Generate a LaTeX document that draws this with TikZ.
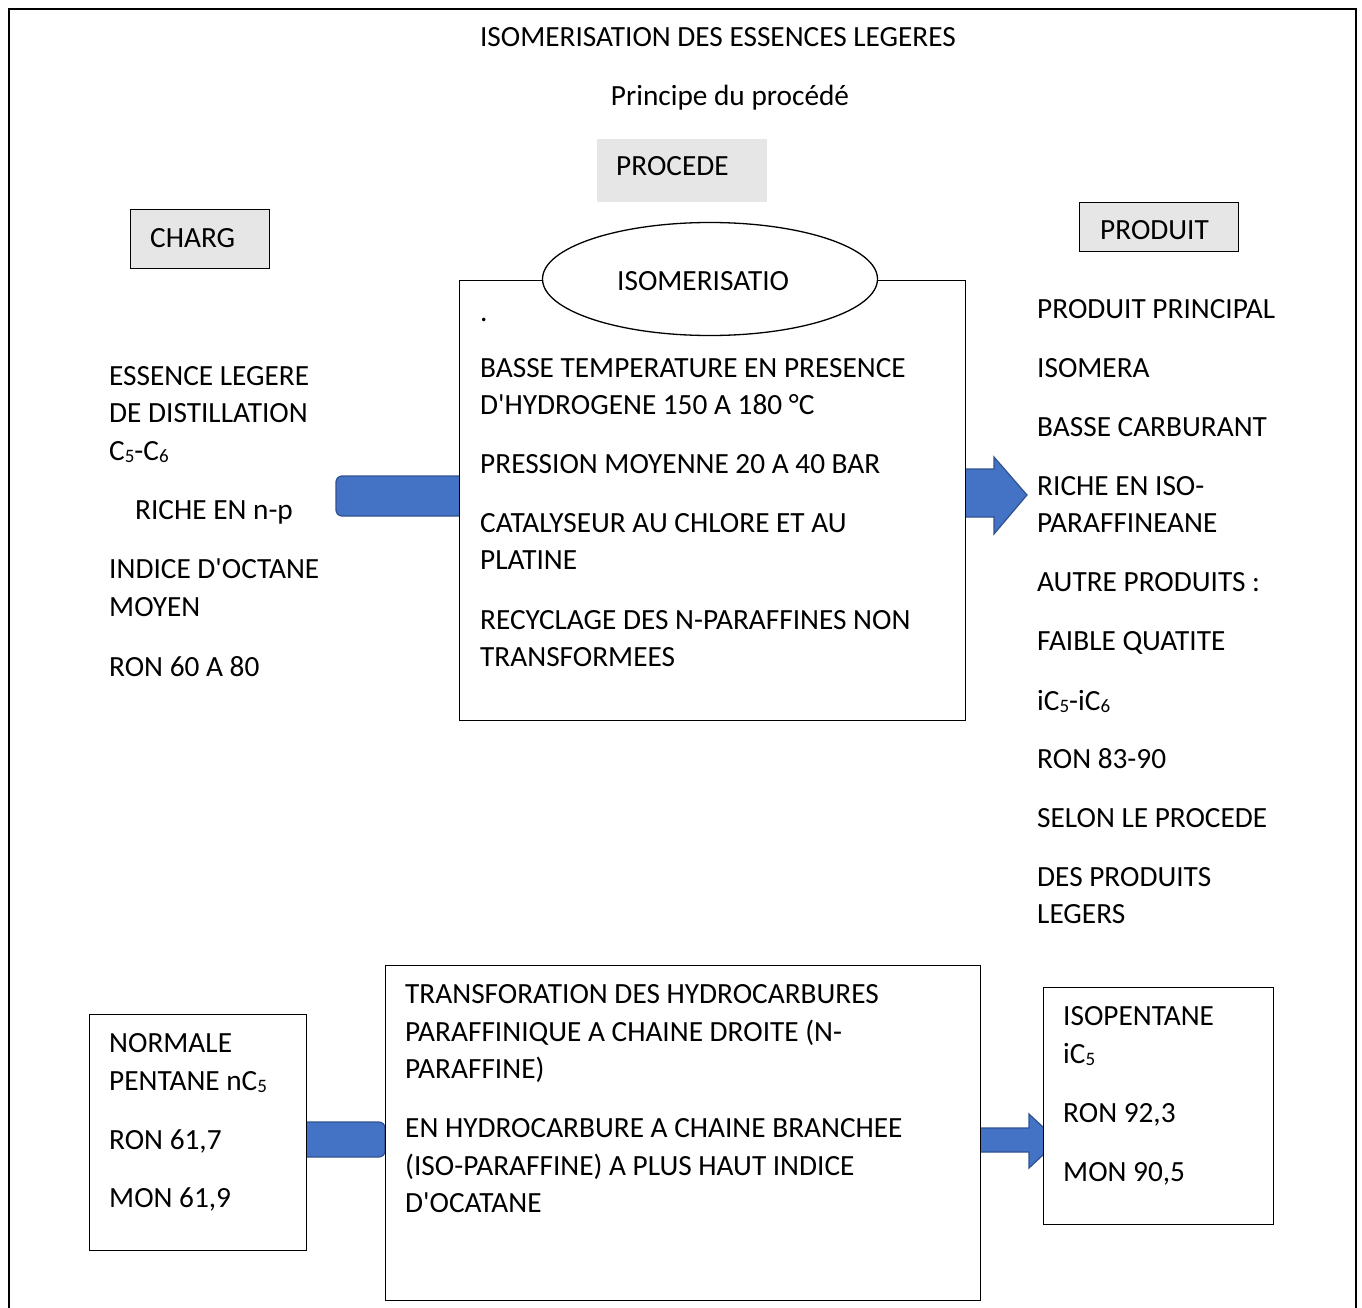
\documentclass[tikz,border=0pt]{standalone}
\usepackage{fontspec}
\setmainfont{Carlito}[Ligatures=TeXOff]
\usetikzlibrary{shapes.geometric}
\definecolor{ablue}{HTML}{4472C4}
\definecolor{ablueline}{HTML}{2F528F}
\definecolor{agray}{HTML}{E7E6E6}
\newcommand{\sbs}[1]{\raisebox{-0.08em}{\fontsize{19}{19}\selectfont #1}}
\begin{document}
\begin{tikzpicture}[x=1pt,y=-1pt,
  every node/.style={font=\fontsize{29.3}{38.6}\selectfont, inner sep=0pt},
  txt/.style={anchor=base west},
  box/.style={draw, line width=1.3pt, fill=white, anchor=north west},
  graybox/.style={fill=agray, anchor=north west},
  blockarrow/.style={draw=ablueline, fill=ablue, line width=1.2pt}]
\useasboundingbox (0,0) rectangle (1362,1308);
% outer frame
\draw[line width=2pt] (9,1310) -- (9,9) -- (1356,9) -- (1356,1310);

% titles
\node (title) [anchor=base] at (718,47) {ISOMERISATION DES ESSENCES LEGERES};
\node (subtitle) [anchor=base] at (730,106) {Principe du procédé};

% header boxes
\node (procbox) [graybox, minimum width=170pt, minimum height=63pt] at (597,139) {};
\node (proctxt) [txt] at (616,176) {PROCEDE};
\node (chargbox) [graybox, draw, line width=1.3pt, minimum width=139pt, minimum height=59pt] at (130,209) {};
\node (chargtxt) [txt] at (150,247) {CHARG};
\node (prodbox) [graybox, draw, line width=1.3pt, minimum width=159pt, minimum height=49pt] at (1079,202) {};
\node (prodtxt) [txt] at (1100,239) {PRODUIT};

% arrows (drawn under boxes)
\draw[blockarrow, rounded corners=6pt] (336,476) rectangle (470,516);
\draw[blockarrow] (960,469) -- (994,469) -- (994,457) -- (1027,495) -- (994,534) -- (994,517) -- (960,517) -- cycle;
\draw[blockarrow, rounded corners=6pt] (290,1122) rectangle (385,1157);
\draw[blockarrow] (975,1128) -- (1029,1128) -- (1029,1114) -- (1058,1141) -- (1029,1168) -- (1029,1152) -- (975,1152) -- cycle;

% main box
\node (mainbox) [box, minimum width=506pt, minimum height=440pt] at (459,280) {};
\node (ell) [ellipse, draw, fill=white, line width=1.3pt, minimum width=335pt, minimum height=113pt] at (710,279) {};
\node (elltxt) [txt] at (617,290) {ISOMERISATIO};

\node (m0) [txt] at (480,321) {.};
\node (m1) [txt] at (480,377) {BASSE TEMPERATURE EN PRESENCE};
\node (m2) [txt] at (480,414) {D'HYDROGENE 150 A 180 °C};
\node (m3) [txt] at (480,473) {PRESSION MOYENNE 20 A 40 BAR};
\node (m4) [txt] at (480,532) {CATALYSEUR AU CHLORE ET AU};
\node (m5) [txt] at (480,569) {PLATINE};
\node (m6) [txt] at (480,629) {RECYCLAGE DES N-PARAFFINES NON};
\node (m7) [txt] at (480,666) {TRANSFORMEES};

% left column
\node (l1) [txt] at (109,385) {ESSENCE LEGERE};
\node (l2) [txt] at (109,422) {DE DISTILLATION};
\node (l3) [txt] at (109,460) {C\sbs{5}-C\sbs{6}};
\node (l4) [txt] at (135,519) {RICHE EN n-p};
\node (l5) [txt] at (109,578) {INDICE D'OCTANE};
\node (l6) [txt] at (109,616) {MOYEN};
\node (l7) [txt] at (109,676) {RON 60 A 80};

% right column
\node (r1) [txt] at (1037,318) {PRODUIT PRINCIPAL};
\node (r2) [txt] at (1037,377) {ISOMERA};
\node (r3) [txt] at (1037,436) {BASSE CARBURANT};
\node (r4) [txt] at (1037,495) {RICHE EN ISO-};
\node (r5) [txt] at (1037,532) {PARAFFINEANE};
\node (r6) [txt] at (1037,591) {AUTRE PRODUITS :};
\node (r7) [txt] at (1037,650) {FAIBLE QUATITE};
\node (r8) [txt] at (1037,710) {iC\sbs{5}-iC\sbs{6}};
\node (r9) [txt] at (1037,768) {RON 83-90};
\node (r10) [txt] at (1037,827) {SELON LE PROCEDE};
\node (r11) [txt] at (1037,886) {DES PRODUITS};
\node (r12) [txt] at (1037,923) {LEGERS};

% bottom boxes
\node (bl) [box, minimum width=217pt, minimum height=236pt] at (89,1014) {};
\node (bl1) [txt] at (109,1052) {NORMALE};
\node (bl2) [txt] at (109,1090) {PENTANE nC\sbs{5}};
\node (bl3) [txt] at (109,1149) {RON 61,7};
\node (bl4) [txt] at (109,1207) {MON 61,9};

\node (bm) [box, minimum width=595pt, minimum height=335pt] at (385,965) {};
\node (bm1) [txt] at (405,1003) {TRANSFORATION DES HYDROCARBURES};
\node (bm2) [txt] at (405,1041) {PARAFFINIQUE A CHAINE DROITE (N-};
\node (bm3) [txt] at (405,1078) {PARAFFINE)};
\node (bm4) [txt] at (405,1137) {EN HYDROCARBURE A CHAINE BRANCHEE};
\node (bm5) [txt] at (405,1175) {(ISO-PARAFFINE) A PLUS HAUT INDICE};
\node (bm6) [txt] at (405,1212) {D'OCATANE};

\node (br) [box, minimum width=230pt, minimum height=237pt] at (1043,987) {};
\node (br1) [txt] at (1063,1025) {ISOPENTANE};
\node (br2) [txt] at (1063,1063) {iC\sbs{5}};
\node (br3) [txt] at (1063,1122) {RON 92,3};
\node (br4) [txt] at (1063,1181) {MON 90,5};
\end{tikzpicture}
\end{document}
